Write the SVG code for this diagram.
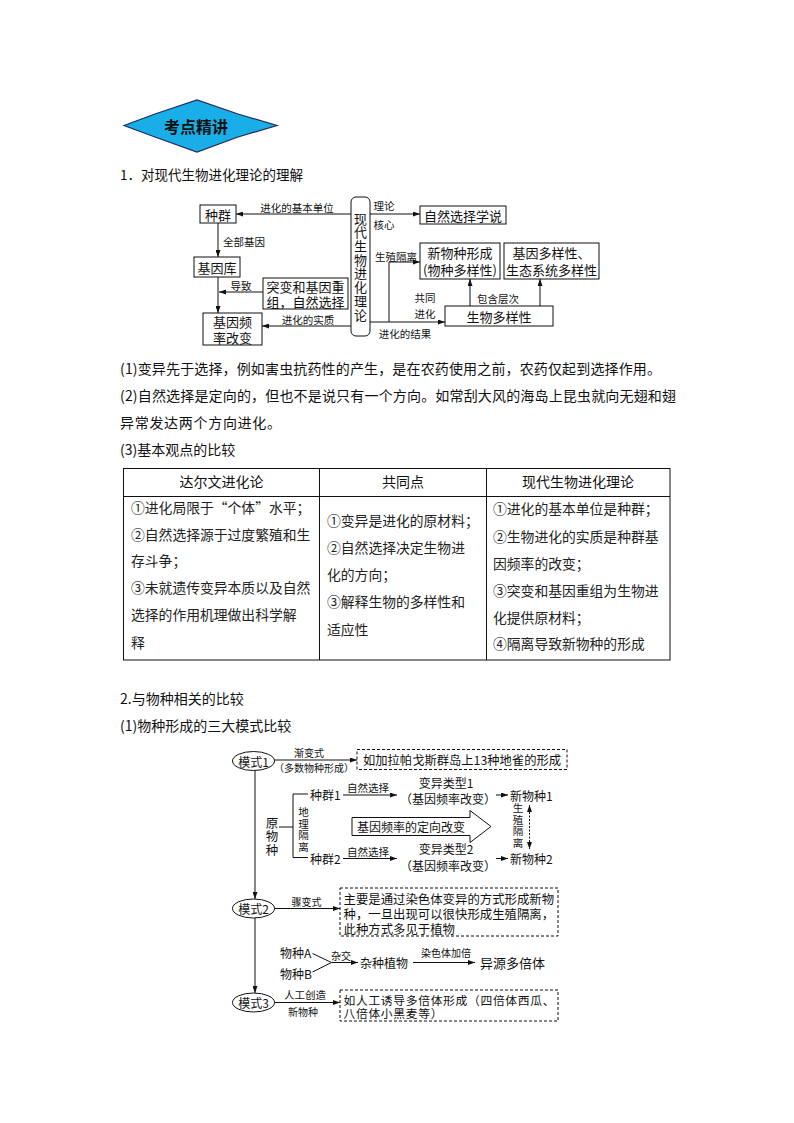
<svg xmlns="http://www.w3.org/2000/svg" width="794" height="1123" viewBox="0 0 794 1123">
<defs>
<marker id="ah" viewBox="0 0 10 10" refX="10" refY="5" markerWidth="7" markerHeight="5" preserveAspectRatio="none" markerUnits="userSpaceOnUse" orient="auto-start-reverse"><path d="M0,0 L10,5 L0,10 z" fill="#111"/></marker>
<style>
text{font-family:"Noto Sans CJK SC","Liberation Sans",sans-serif;fill:#111;dominant-baseline:central}
.c{text-anchor:middle}
.v{writing-mode:vertical-rl;text-anchor:middle}
.b13{font-size:13px}
.l10{font-size:10.5px}
.l10s{font-size:10px}
.p{font-size:14px}
.t{font-size:13.8px;fill:#222}
.m{font-size:12px}
.box{fill:#fff;stroke:#111;stroke-width:1}
.dbox{fill:#fff;stroke:#111;stroke-width:1;stroke-dasharray:3,2}
.ln{fill:none;stroke:#111;stroke-width:1}
.ar{fill:none;stroke:#111;stroke-width:1;marker-end:url(#ah)}
.tb{fill:none;stroke:#111;stroke-width:1}
</style>
</defs>
<rect width="794" height="1123" fill="#fff"/>

<!-- header badge -->
<g id="badge">
<polygon points="124,125.5 155,114 197,100 238,114 277,125.5 238,137 197,152 155,137" fill="#1aaee8" stroke="#1d2b5a" stroke-width="1.2"/>
<text x="196" y="125.5" class="c" style="font-size:16px;font-weight:bold">考点精讲</text>
</g>

<text x="120" y="174" style="font-size:13.5px">1．对现代生物进化理论的理解</text>

<!-- top diagram nodes -->
<g id="n-zhongqun"><rect class="box" x="200" y="205" width="36" height="18"/><text class="c b13" x="218" y="214">种群</text></g>
<g id="n-jiyinku"><rect class="box" x="194" y="257" width="46" height="20"/><text class="c b13" x="217" y="267">基因库</text></g>
<g id="n-pinlv"><rect class="box" x="203" y="313" width="59" height="32"/><text class="c b13" x="232.5" y="321">基因频<tspan x="232.5" dy="16">率改变</tspan></text></g>
<g id="n-tubian"><rect class="box" x="263" y="278" width="85" height="31"/><text class="c b13" x="305.5" y="286">突变和基因重<tspan x="305.5" dy="15">组，自然选择</tspan></text></g>
<g id="n-xiandai"><rect class="box" x="351" y="197" width="19" height="139" rx="5"/>
<text class="v b13" x="360.5" y="267" style="letter-spacing:0.7px">现代生物进化理论</text></g>
<g id="n-zirang"><rect class="box" x="420" y="206" width="86" height="18"/><text class="c b13" x="463" y="215">自然选择学说</text></g>
<g id="n-xinwuzhong"><rect class="box" x="420" y="243" width="80" height="36"/><text class="c b13" x="460" y="252.5">新物种形成<tspan x="460" dy="16">(物种多样性)</tspan></text></g>
<g id="n-jiyinduo"><rect class="box" x="504" y="243" width="95" height="36"/><text class="c b13" x="551.5" y="252.5">基因多样性、<tspan x="551.5" dy="16">生态系统多样性</tspan></text></g>
<g id="n-shengwu"><rect class="box" x="445" y="306" width="108" height="20"/><text class="c b13" x="499" y="316">生物多样性</text></g>

<!-- top diagram connectors -->
<g id="connectors-top">
<line class="ar" x1="351" y1="214" x2="236" y2="214"/>
<line class="ar" x1="218" y1="223" x2="218" y2="257"/>
<line class="ar" x1="218" y1="277" x2="218" y2="313"/>
<line class="ar" x1="263" y1="292" x2="219" y2="292"/>
<line class="ar" x1="351" y1="326" x2="262" y2="326"/>
<line class="ar" x1="370" y1="214" x2="420" y2="214"/>
<line class="ar" x1="370" y1="322" x2="445" y2="322"/>
<polyline class="ar" points="389,322 389,262 420,262"/>
<line class="ar" x1="470" y1="306" x2="470" y2="279"/>
<line class="ar" x1="540" y1="306" x2="540" y2="279"/>
<text class="c l10" x="297" y="207">进化的基本单位</text>
<text class="l10" x="223" y="241">全部基因</text>
<text class="c l10" x="241" y="285">导致</text>
<text class="c l10" x="308" y="319">进化的实质</text>
<text class="c l10" x="384" y="205">理论</text>
<text class="c l10" x="384" y="224">核心</text>
<text class="c l10" x="396" y="256">生殖隔离</text>
<text class="c l10" x="425" y="297.5">共同<tspan x="425" dy="15.5">进化</tspan></text>
<text class="c l10" x="405" y="333">进化的结果</text>
<text class="c l10" x="498" y="298">包含层次</text>
</g>

<!-- paragraphs -->
<text class="p" x="120" y="368" textLength="541" lengthAdjust="spacing">(1)变异先于选择，例如害虫抗药性的产生，是在农药使用之前，农药仅起到选择作用。</text>
<text class="p" x="120" y="395" textLength="556" lengthAdjust="spacing">(2)自然选择是定向的，但也不是说只有一个方向。如常刮大风的海岛上昆虫就向无翅和翅</text>
<text class="p" x="120" y="422" textLength="161" lengthAdjust="spacing">异常发达两个方向进化。</text>
<text class="p" x="120" y="449">(3)基本观点的比较</text>

<!-- table -->
<g id="table">
<rect class="tb" x="123.5" y="468.5" width="546.5" height="191.5"/>
<line class="tb" x1="123.5" y1="496.5" x2="670" y2="496.5"/>
<line class="tb" x1="319.5" y1="468.5" x2="319.5" y2="660"/>
<line class="tb" x1="486.5" y1="468.5" x2="486.5" y2="660"/>
<text class="c p" x="221.5" y="481">达尔文进化论</text>
<text class="c p" x="403" y="481">共同点</text>
<text class="c p" x="578" y="481">现代生物进化理论</text>
<text class="t" x="131" y="507">①进化局限于“个体”水平；</text>
<text class="t" x="131" y="534">②自然选择源于过度繁殖和生</text>
<text class="t" x="131" y="560">存斗争；</text>
<text class="t" x="131" y="587">③未就遗传变异本质以及自然</text>
<text class="t" x="131" y="614">选择的作用机理做出科学解</text>
<text class="t" x="131" y="642">释</text>
<text class="t" x="327" y="520">①变异是进化的原材料；</text>
<text class="t" x="327" y="547">②自然选择决定生物进</text>
<text class="t" x="327" y="574">化的方向；</text>
<text class="t" x="327" y="601">③解释生物的多样性和</text>
<text class="t" x="327" y="629">适应性</text>
<text class="t" x="493" y="508">①进化的基本单位是种群；</text>
<text class="t" x="493" y="536">②生物进化的实质是种群基</text>
<text class="t" x="493" y="563">因频率的改变；</text>
<text class="t" x="493" y="590">③突变和基因重组为生物进</text>
<text class="t" x="493" y="617">化提供原材料；</text>
<text class="t" x="493" y="643">④隔离导致新物种的形成</text>
</g>

<text class="p" x="120" y="698">2.与物种相关的比较</text>
<text class="p" x="120" y="725">(1)物种形成的三大模式比较</text>

<!-- bottom diagram nodes -->
<g id="n-moshi1"><ellipse class="box" cx="253.5" cy="761" rx="21" ry="9.5"/><text class="c m" x="253.5" y="761">模式1</text></g>
<g id="n-box1"><rect class="dbox" x="357" y="749.5" width="210" height="20"/><text class="c" style="font-size:12.3px" x="462" y="759.5">如加拉帕戈斯群岛上13种地雀的形成</text></g>
<g id="n-yuanwuzhong"><text class="v" style="font-size:12.5px;letter-spacing:1px" x="272" y="837">原物种</text></g>
<g id="n-zhongqun1"><text class="m" x="310" y="794">种群1</text></g>
<g id="n-zhongqun2"><text class="m" x="310" y="858">种群2</text></g>
<g id="n-bianyi1"><text class="c m" x="446" y="782.5">变异类型1<tspan x="448" dy="15">（基因频率改变）</tspan></text></g>
<g id="n-bianyi2"><text class="c m" x="446" y="848.5">变异类型2<tspan x="448" dy="16.5">（基因频率改变）</tspan></text></g>
<g id="n-xinwuzhong1"><text class="m" x="510" y="795">新物种1</text></g>
<g id="n-xinwuzhong2"><text class="m" x="510" y="858">新物种2</text></g>
<g id="n-bigarrow"><path class="box" d="M352,817.5 H470 V810.5 L491,826.5 L470,842.5 V835.5 H352 Z"/><text class="c m" x="411" y="826.5">基因频率的定向改变</text></g>
<g id="n-moshi2"><ellipse class="box" cx="253.5" cy="908.5" rx="21" ry="9.5"/><text class="c m" x="253.5" y="908.5">模式2</text></g>
<g id="n-box2"><rect class="dbox" x="340" y="888" width="218" height="48"/>
<text style="font-size:12.4px" x="343.5" y="898.5">主要是通过染色体变异的方式形成新物<tspan x="343.5" dy="15">种，一旦出现可以很快形成生殖隔离，</tspan><tspan x="343.5" dy="15">此种方式多见于植物</tspan></text></g>
<g id="n-wuzhongA"><text class="m" x="280" y="952">物种A</text></g>
<g id="n-wuzhongB"><text class="m" x="280" y="973.5">物种B</text></g>
<g id="n-zazhong"><text class="m" x="360" y="962.5">杂种植物</text></g>
<g id="n-yiyuan"><text style="font-size:13px" x="480" y="962.5">异源多倍体</text></g>
<g id="n-moshi3"><ellipse class="box" cx="253.5" cy="1002.5" rx="21" ry="9.5"/><text class="c m" x="253.5" y="1002.5">模式3</text></g>
<g id="n-box3"><rect class="dbox" x="340" y="990" width="218" height="31"/>
<text style="font-size:11.8px" x="343.5" y="999.5" textLength="211" lengthAdjust="spacing">如人工诱导多倍体形成（四倍体西瓜、</text>
<text style="font-size:11.8px" x="343.5" y="1012.5" textLength="99" lengthAdjust="spacing">八倍体小黑麦等）</text></g>

<!-- bottom connectors -->
<g id="connectors-bottom">
<line class="ar" x1="274.5" y1="760" x2="357" y2="760"/>
<text class="c l10s" x="309" y="752">渐变式<tspan x="314" dy="14.5">（多数物种形成）</tspan></text>
<line class="ar" x1="255" y1="770.5" x2="255" y2="899"/>
<line class="ar" x1="255" y1="918" x2="255" y2="993"/>
<line class="ln" x1="279" y1="827" x2="293" y2="827"/>
<polyline class="ln" points="308,794 293,794 293,857.5 308,857.5"/>
<text class="v l10" x="303.5" y="830" style="letter-spacing:1px">地理隔离</text>
<line class="ar" x1="343" y1="795" x2="397" y2="795"/>
<text class="c l10" x="368" y="787">自然选择</text>
<line class="ar" x1="343" y1="858.5" x2="397" y2="858.5"/>
<text class="c l10" x="368" y="851.5">自然选择</text>
<line class="ar" x1="496" y1="795" x2="508" y2="795"/>
<line class="ar" x1="496" y1="858.5" x2="508" y2="858.5"/>
<text class="v l10" x="518" y="826" style="letter-spacing:1.2px">生殖隔离</text>
<line x1="529.5" y1="805" x2="529.5" y2="849" stroke="#111" stroke-width="1" stroke-dasharray="2,1.5" marker-start="url(#ah)" marker-end="url(#ah)"/>
<line class="ar" x1="274.5" y1="908.5" x2="340" y2="908.5"/>
<text class="c l10s" x="306.5" y="901.5">骤变式</text>
<polyline class="ln" points="312.5,953.5 331.5,962.5 312.5,972"/>
<line class="ar" x1="331.5" y1="962.5" x2="358" y2="962.5"/>
<text class="c l10s" x="341" y="955">杂交</text>
<line class="ar" x1="413" y1="962.5" x2="475" y2="962.5"/>
<text class="c l10s" x="446" y="952">染色体加倍</text>
<line class="ar" x1="274.5" y1="1002.5" x2="340" y2="1002.5"/>
<text class="c l10" x="305" y="994">人工创造</text>
<text class="c l10s" x="303" y="1011.5">新物种</text>
</g>
</svg>
